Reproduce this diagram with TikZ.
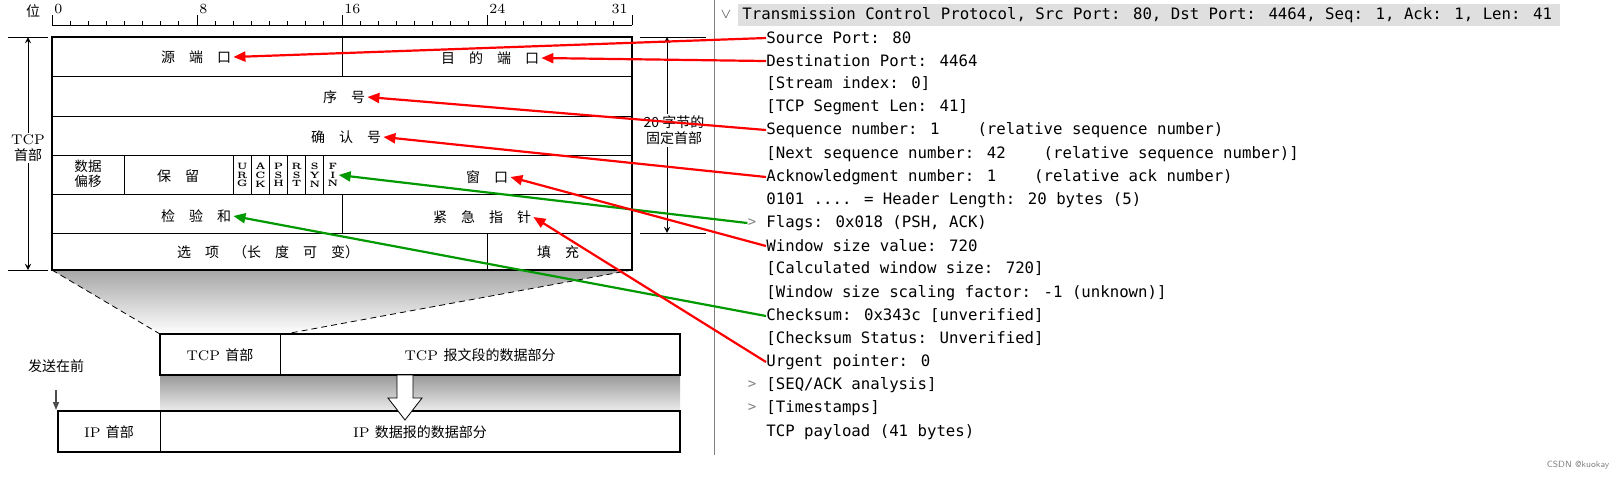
\documentclass[tikz,border=0pt]{standalone}
\usepackage{fontspec}
\newfontfamily\cjk{Noto Sans CJK SC}
\newfontfamily\wsmono{DejaVu Sans Mono}
\usetikzlibrary{arrows.meta}

\tikzset{
  field/.style={font=\cjk\fontsize{7}{8}\selectfont, inner sep=1pt},
  flagbit/.style={font=\bfseries\fontsize{4.6}{4.4}\selectfont, align=center, inner sep=0pt},
  ws/.style={anchor=west, font=\wsmono\fontsize{7.85}{9}\selectfont, inner sep=0pt},
  chev/.style={font=\wsmono\fontsize{7}{8}\selectfont, text=gray, inner sep=0pt},
  redarrow/.style={draw=red, line width=1.1pt, -{Triangle[length=6pt,width=5pt]}},
  greenarrow/.style={draw=green!60!black, line width=1.1pt, -{Triangle[length=6pt,width=5pt]}},
}
\newcommand{\gap}{\ \ \ \ }

\begin{document}
\begin{tikzpicture}[x=0.5pt, y=-0.5pt, >=stealth]
  \useasboundingbox (0,0) rectangle (1620,495);

  % Parameters
  \def\bw{18.125} % width of one bit
  \def\xl{52}     % left edge of header

  % Ruler
  \draw (\xl,25) -- (632,25);
  \foreach \i in {0,...,32}{
    \draw (\xl+\i*\bw,25) -- (\xl+\i*\bw,21);
  }
  \foreach \i in {0,8,16,24,32}{
    \draw (\xl+\i*\bw,25) -- (\xl+\i*\bw,15);
  }
  \foreach \i in {0,8,16,24}{
    \node[anchor=south west, inner sep=1pt, font=\fontsize{7}{8}\selectfont] at (\xl+\i*\bw,16) {\i};
  }
  \node[anchor=south east, inner sep=1pt, font=\fontsize{7}{8}\selectfont] at (630,16) {31};
  \node[field] (bit) at (33,11) {位};

  % Shaded zoom between header and segment
  \shade[top color=gray!70, bottom color=white] (\xl,270) -- (632,270) -- (285,334) -- (160,334) -- cycle;
  \draw[densely dashed] (\xl,270) -- (160,334);
  \draw[densely dashed] (632,270) -- (285,334);
  \shade[top color=gray!80, bottom color=gray!15] (160,375) rectangle (680,411);

  % Header box
  \draw[line width=1pt] (\xl,37) rectangle (632,270);
  \foreach \y in {76,116,155,194,233}{
    \draw (\xl,\y) -- (632,\y);
  }
  \draw (342,37) -- (342,76);
  \draw (124.5,155) -- (124.5,194);
  \foreach \i in {10,...,15}{
    \draw (\xl+\i*\bw,155) -- (\xl+\i*\bw,194);
  }
  \draw (342,194) -- (342,233);
  \draw (487,233) -- (487,270);

  % Field labels
  \node[field] (srcport) at (196,57) {源\quad 端\quad 口};
  \node[field] (dstport) at (490,58) {目\quad 的\quad 端\quad 口};
  \node[field] (seqnum) at (344,97) {序\quad 号};
  \node[field] (acknum) at (346,137) {确\quad 认\quad 号};
  \node[field, align=center, font=\cjk\fontsize{6.8}{7.4}\selectfont] (offset) at (88,174) {数据\\偏移};
  \node[field] (reserved) at (178,176) {保\quad 留};
  \foreach \f [count=\k from 0] in {{U\\R\\G},{A\\C\\K},{P\\S\\H},{R\\S\\T},{S\\Y\\N},{F\\I\\N}}{
    \node[flagbit] (flag\k) at (\xl+10*\bw+\k*\bw+\bw/2,175) {\f};
  }
  \node[field] (window) at (487,177) {窗\quad 口};
  \node[field] (checksum) at (196,216) {检\quad 验\quad 和};
  \node[field] (urgent) at (482,217) {紧\quad 急\quad 指\quad 针};
  \node[field] (options) at (268,252) {选\quad 项\quad （长\quad 度\quad 可\quad 变）};
  \node[field] (padding) at (558,252) {填\quad 充};

  % Left dimension
  \draw (8,37) -- (48,37);
  \draw (8,270) -- (48,270);
  \draw[<->] (28,37) -- (28,270);
  \node[field, fill=white, align=center, font=\fontsize{7}{8}\selectfont] (tcphdr) at (28,148) {TCP\\{\cjk 首部}};

  % Right dimension
  \draw (640,37) -- (706,37);
  \draw (640,233) -- (706,233);
  \draw[<->] (667,37) -- (667,233);
  \node[field, fill=white, align=center] (fixed) at (674,130) {20 字节的\\固定首部};

  % TCP segment and IP datagram
  \draw[line width=1pt] (160,334) rectangle (680,375);
  \draw (280,334) -- (280,375);
  \node[font=\fontsize{7}{8}\selectfont] (seghdr) at (220,355) {TCP {\cjk 首部}};
  \node[font=\fontsize{7}{8}\selectfont] (segdata) at (480,355) {TCP {\cjk 报文段的数据部分}};
  \draw[line width=1pt] (58,411) rectangle (680,452);
  \draw (160,411) -- (160,452);
  \node[font=\fontsize{7}{8}\selectfont] (iphdr) at (109,432) {IP {\cjk 首部}};
  \node[font=\fontsize{7}{8}\selectfont] (ipdata) at (420,432) {IP {\cjk 数据报的数据部分}};
  \draw[fill=white] (397,375) -- (413,375) -- (413,398) -- (422,398) -- (405,420) -- (388,398) -- (397,398) -- cycle;
  \node[field] (sendfirst) at (56,366) {发送在前};
  \coordinate (sendtop) at (56,390);
  \coordinate (sendbot) at (56,410);
  \draw[gray!60!black, line width=0.8pt, -{Triangle[length=4pt,width=3pt]}] (sendtop) -- (sendbot);

  % Wireshark panel
  \draw[gray] (714,0) -- (714,455);
  \fill[gray!25] (738,4) rectangle (1560,26);
  \node[chev, text=black!70] (topchev) at (726,15) {$\vee$};
  \node[ws] (tcp) at (742,15) {Transmission Control Protocol, Src Port: 80, Dst Port: 4464, Seq: 1, Ack: 1, Len: 41};
  \node[ws] (l1) at (766,38) {Source Port: 80};
  \node[ws] (l2) at (766,61) {Destination Port: 4464};
  \node[ws] (l3) at (766,84) {[Stream index: 0]};
  \node[ws] (l4) at (766,107) {[TCP Segment Len: 41]};
  \node[ws] (l5) at (766,130) {Sequence number: 1\gap(relative sequence number)};
  \node[ws] (l6) at (766,154) {[Next sequence number: 42\gap(relative sequence number)]};
  \node[ws] (l7) at (766,177) {Acknowledgment number: 1\gap(relative ack number)};
  \node[ws] (l8) at (766,200) {0101 .... = Header Length: 20 bytes (5)};
  \node[ws] (l9) at (766,223) {Flags: 0x018 (PSH, ACK)};
  \node[ws] (l10) at (766,246) {Window size value: 720};
  \node[ws] (l11) at (766,269) {[Calculated window size: 720]};
  \node[ws] (l12) at (766,293) {[Window size scaling factor: -1 (unknown)]};
  \node[ws] (l13) at (766,316) {Checksum: 0x343c [unverified]};
  \node[ws] (l14) at (766,339) {[Checksum Status: Unverified]};
  \node[ws] (l15) at (766,362) {Urgent pointer: 0};
  \node[ws] (l16) at (766,385) {[SEQ/ACK analysis]};
  \node[ws] (l17) at (766,408) {[Timestamps]};
  \node[ws] (l18) at (766,432) {TCP payload (41 bytes)};
  \node[chev] (c9) at (752,223) {>};
  \node[chev] (c16) at (752,385) {>};
  \node[chev] (c17) at (752,408) {>};
  \node[font=\sffamily\fontsize{4.5}{5}\selectfont, text=gray] (mark) at (1578,465) {CSDN @kuokay};

  % Arrows from fields of the capture to the header
  \draw[redarrow] (l1.west) -- (srcport.east);
  \draw[redarrow] (l2.west) -- (dstport.east);
  \draw[redarrow] (l5.west) -- (seqnum.east);
  \draw[redarrow] (l7.west) -- (acknum.east);
  \draw[greenarrow] (c9.west) -- (flag5.east);
  \draw[redarrow] (l10.west) -- (window.east);
  \draw[greenarrow] (l13.west) -- (checksum.east);
  \draw[redarrow] (l15.west) -- (urgent.east);
\end{tikzpicture}
\end{document}
